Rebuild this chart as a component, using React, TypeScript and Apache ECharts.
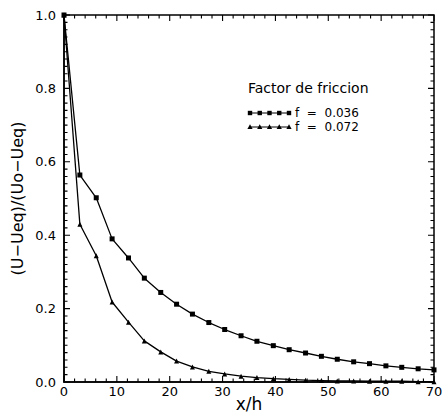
import React, { useEffect, useRef } from "react";
import * as echarts from "echarts";

const xValues = [0, 3.0, 6.1, 9.1, 12.2, 15.2, 18.3, 21.3, 24.3, 27.4, 30.4, 33.5, 36.5, 39.6, 42.6, 45.7, 48.7, 51.7, 54.8, 57.8, 60.9, 63.9, 67.0, 70];
const f036 = [1.0, 0.564, 0.502, 0.39, 0.338, 0.283, 0.244, 0.212, 0.185, 0.162, 0.143, 0.126, 0.111, 0.099, 0.088, 0.079, 0.07, 0.062, 0.055, 0.05, 0.044, 0.04, 0.036, 0.033];
const f072 = [1.0, 0.43, 0.344, 0.218, 0.163, 0.112, 0.082, 0.057, 0.041, 0.029, 0.022, 0.016, 0.012, 0.009, 0.007, 0.005, 0.004, 0.003, 0.003, 0.002, 0.002, 0.002, 0.001, 0.001];
const seriesNames = ["f  =  0.036", "f  =  0.072"];
const legendTitle = "Factor de friccion";
const xName = "x/h";
const yName = "(U\u2212Ueq)/(Uo\u2212Ueq)";

// axis tick positions (drawn inside the frame on all four sides)
const xMajorTicks = [0, 10, 20, 30, 40, 50, 60, 70];
const xMinorTicks = [2, 4, 6, 8, 12, 14, 16, 18, 22, 24, 26, 28, 32, 34, 36, 38, 42, 44, 46, 48, 52, 54, 56, 58, 62, 64, 66, 68];
const yMajorTicks = [0, 0.2, 0.4, 0.6, 0.8, 1.0];
const yMinorTicks = [
  0.02, 0.04, 0.06, 0.08, 0.1, 0.12, 0.14, 0.16, 0.18,
  0.22, 0.24, 0.26, 0.28, 0.3, 0.32, 0.34, 0.36, 0.38,
  0.42, 0.44, 0.46, 0.48, 0.5, 0.52, 0.54, 0.56, 0.58,
  0.62, 0.64, 0.66, 0.68, 0.7, 0.72, 0.74, 0.76, 0.78,
  0.82, 0.84, 0.86, 0.88, 0.9, 0.92, 0.94, 0.96, 0.98,
];

const X_MIN = 0, X_MAX = 70, Y_MIN = 0, Y_MAX = 1;
const FONT = "DejaVu Sans";

// tick lengths in data units (plot is ~370 px wide for 70 units, ~367 px tall for 1 unit)
const X_PER_PX = 70 / 370;
const Y_PER_PX = 1 / 367;
const MAJOR_PX = 6;
const MINOR_PX = 3.5;

export default function App() {
  const ref = useRef<HTMLDivElement>(null);
  useEffect(() => {
    if (!ref.current) return;
    const chart = echarts.init(ref.current, null, { renderer: "svg" });

    const gap: any = ["-", "-"];
    const tickData: any[] = [];
    const addX = (v: number, px: number) => {
      const d = px * Y_PER_PX;
      tickData.push([v, Y_MIN], [v, Y_MIN + d], gap, [v, Y_MAX], [v, Y_MAX - d], gap);
    };
    const addY = (v: number, px: number) => {
      const d = px * X_PER_PX;
      tickData.push([X_MIN, v], [X_MIN + d, v], gap, [X_MAX, v], [X_MAX - d, v], gap);
    };
    xMajorTicks.forEach((v) => addX(v, MAJOR_PX));
    xMinorTicks.forEach((v) => addX(v, MINOR_PX));
    yMajorTicks.forEach((v) => addY(v, MAJOR_PX));
    yMinorTicks.forEach((v) => addY(v, MINOR_PX));

    const g: any[] = [];
    const lx0 = 250, lx1 = 289;
    const rows = [113, 127];
    rows.forEach((y, r) => {
      g.push({ type: "line", shape: { x1: lx0, y1: y, x2: lx1, y2: y }, style: { stroke: "#000", lineWidth: 1.2 } });
      for (let k = 0; k < 5; k++) {
        const cx = lx0 + (k * (lx1 - lx0)) / 4;
        if (r === 0) {
          g.push({ type: "rect", shape: { x: cx - 2.2, y: y - 2.2, width: 4.4, height: 4.4 }, style: { fill: "#000" } });
        } else {
          g.push({ type: "polygon", shape: { points: [[cx, y - 2.8], [cx - 2.6, y + 2], [cx + 2.6, y + 2]] }, style: { fill: "#000" } });
        }
      }
      g.push({ type: "text", x: 295, y, style: { text: seriesNames[r], font: `12px '${FONT}'`, fill: "#000", verticalAlign: "middle" } });
    });
    g.push({ type: "text", x: 248, y: 88, style: { text: legendTitle, font: `14px '${FONT}'`, fill: "#000", verticalAlign: "middle" } });

    chart.setOption({
      animation: false,
      backgroundColor: "#fff",
      grid: {
        left: 64, right: 8, top: 15, bottom: 32, outerBoundsMode: "none",
        show: true, borderColor: "#000", borderWidth: 1.5, backgroundColor: "transparent",
      },
      xAxis: {
        type: "value", min: X_MIN, max: X_MAX, interval: 10, position: "bottom",
        name: xName, nameLocation: "middle", nameGap: 13, nameMoveOverlap: false,
        nameTextStyle: { fontSize: 17, color: "#000", fontFamily: FONT },
        axisLabel: { color: "#000", fontSize: 13, margin: 3, fontFamily: FONT },
        axisLine: { show: true, onZero: false, lineStyle: { color: "#000", width: 1.5 } },
        axisTick: { show: false },
        splitLine: { show: false },
      },
      yAxis: {
        type: "value", min: Y_MIN, max: Y_MAX, interval: 0.2, position: "left",
        name: yName, nameLocation: "middle", nameGap: 39, nameMoveOverlap: false,
        nameTextStyle: { fontSize: 16, color: "#000", fontFamily: FONT },
        axisLabel: { color: "#000", fontSize: 13, margin: 8, fontFamily: FONT, formatter: (v: number) => v.toFixed(1) },
        axisLine: { show: true, onZero: false, lineStyle: { color: "#000", width: 1.5 } },
        axisTick: { show: false },
        splitLine: { show: false },
      },
      series: [
        {
          name: "ticks", type: "line", data: tickData, symbol: "none",
          connectNulls: false, silent: true, clip: false, z: 4,
          lineStyle: { color: "#000", width: 1.1 },
        },
        {
          name: seriesNames[0], type: "line",
          data: xValues.map((x, i) => [x, f036[i]]),
          symbol: "rect", symbolSize: 5, showAllSymbol: true,
          lineStyle: { color: "#000", width: 1.3 }, itemStyle: { color: "#000" },
        },
        {
          name: seriesNames[1], type: "line",
          data: xValues.map((x, i) => [x, f072[i]]),
          symbol: "triangle", symbolSize: 5, showAllSymbol: true,
          lineStyle: { color: "#000", width: 1.3 }, itemStyle: { color: "#000" },
        },
      ],
      graphic: g,
    });
    return () => chart.dispose();
  }, []);
  return <div ref={ref} style={{ width: 442, height: 414, position: "absolute", left: 0, top: 0 }} />;
}
